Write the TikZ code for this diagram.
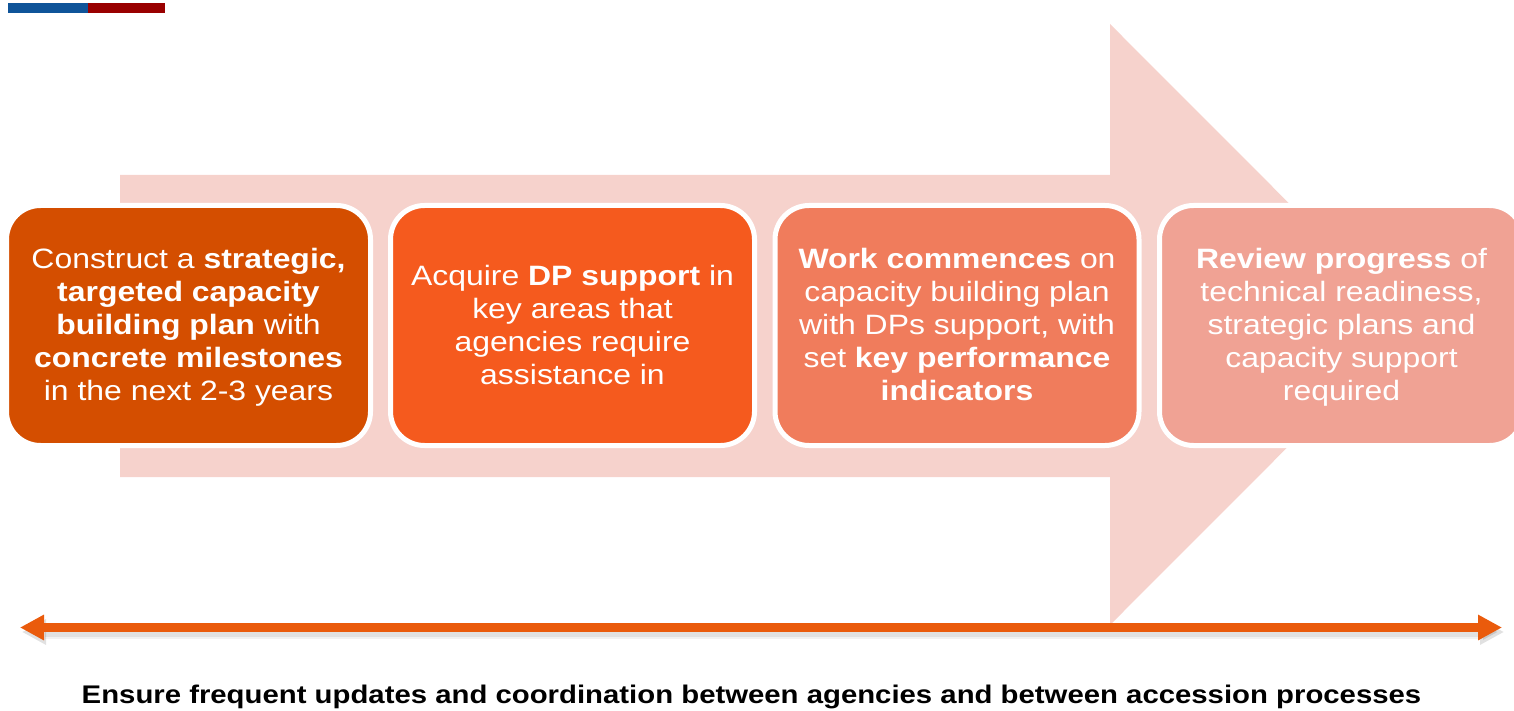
\documentclass[tikz,border=0pt]{standalone}
\usepackage{fontspec}
\setmainfont{Liberation Sans}
\usetikzlibrary{arrows.meta}
\definecolor{cA}{RGB}{212,78,0}
\definecolor{cB}{RGB}{245,90,30}
\definecolor{cC}{RGB}{240,124,92}
\definecolor{cD}{RGB}{240,162,148}
\definecolor{bgarrow}{RGB}{246,210,204}
\definecolor{linearrow}{RGB}{234,91,12}
\definecolor{barblue}{RGB}{15,84,153}
\definecolor{barred}{RGB}{153,0,0}
\newcommand{\widetext}[1]{\raisebox{-2.5pt}[\height][\depth]{\scalebox{1.14}[1]{\begin{tabular}{@{}c@{}}#1\end{tabular}}}}
\tikzset{
  stepbox/.style={draw=white, line width=5pt, rounded corners=34pt,
    minimum width=364pt, minimum height=240pt, inner sep=0pt,
    text=white, align=center, font=\fontsize{28}{33}\selectfont},
  twoway/.style={draw=linearrow, line width=9pt,
    {Triangle[length=24pt,width=24pt]}-{Triangle[length=24pt,width=24pt]}},
  shadowway/.style={draw=black, line width=9pt,
    {Triangle[length=24pt,width=24pt]}-{Triangle[length=24pt,width=24pt]}},
  caption/.style={anchor=base, font=\bfseries\fontsize{25.5}{30}\selectfont, inner sep=0pt}
}
\begin{document}
\begin{tikzpicture}[x=1pt,y=-1pt]
\useasboundingbox (0,0) rectangle (1514,711);
% top bar
\fill[barblue] (8,3) rectangle (88,13);
\fill[barred] (88,3) rectangle (165,13);
% big background arrow
\fill[bgarrow] (120,175) -- (1110,175) -- (1110,24) -- (1410,324.5) -- (1110,625)
  -- (1110,477) -- (120,477) -- cycle;
% boxes
\node[stepbox, fill=cA] (b1) at (188.5,325.5)
  {\widetext{Construct a \textbf{strategic,}\\\textbf{targeted capacity}\\\textbf{building plan} with\\\textbf{concrete milestones}\\in the next 2-3 years}};
\node[stepbox, fill=cB] (b2) at (572.5,325.5)
  {\widetext{Acquire \textbf{DP support} in\\key areas that\\agencies require\\assistance in}};
\node[stepbox, fill=cC] (b3) at (957,325.5)
  {\widetext{\textbf{Work commences} on\\capacity building plan\\with DPs support, with\\set \textbf{key performance}\\\textbf{indicators}}};
\node[stepbox, fill=cD] (b4) at (1341.5,325.5)
  {\widetext{\textbf{Review progress} of\\technical readiness,\\strategic plans and\\capacity support\\required}};
% bottom double arrow
\coordinate (la) at (20,627.5);
\coordinate (ra) at (1502,627.5);
\coordinate (las) at (22,632);
\coordinate (ras) at (1504,632);
\draw[shadowway, opacity=0.05, line width=13pt] (las) -- (ras);
\draw[shadowway, opacity=0.07] (las) -- (ras);
\draw[twoway] (la) -- (ra);
% caption
\node[caption] (cap) at (751.5,703)
  {\scalebox{1.15}[1]{Ensure frequent updates and coordination between agencies and between accession processes}};
\end{tikzpicture}
\end{document}
